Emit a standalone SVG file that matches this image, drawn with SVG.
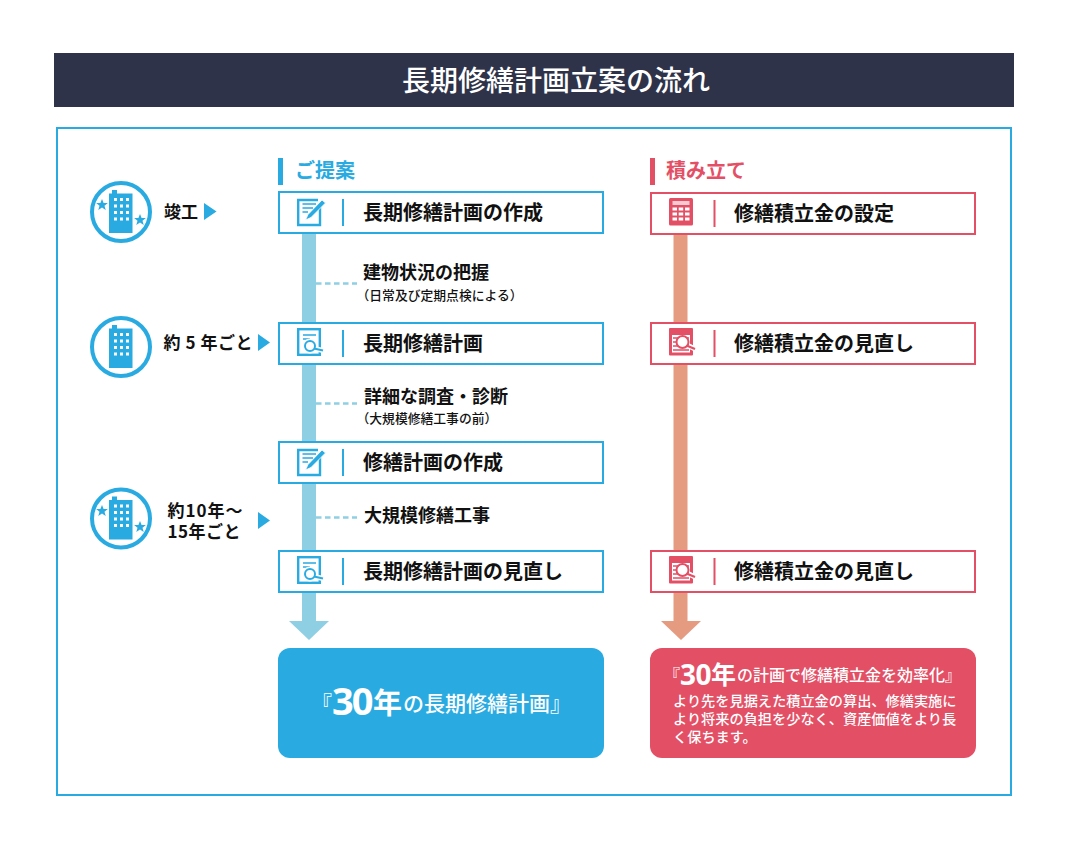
<svg xmlns="http://www.w3.org/2000/svg" width="1069" height="849" viewBox="0 0 1069 849">
<style>
text{font-family:"Noto Sans CJK JP","Noto Sans",sans-serif;font-weight:700;fill:#111}
.lb{font-size:20px}
.nt{font-size:18px}
.tm{font-size:17px}
.sm{font-size:12.8px;font-weight:500}
.w{fill:#fff}
.w5{fill:#fff;font-weight:500}
.num{fill:#fff;font-family:"Open Sans","Noto Sans CJK JP",sans-serif}
.bbox{fill:#fff;stroke:#29abe2;stroke-width:2}
.rbox{fill:#fff;stroke:#e34f65;stroke-width:2}
.bd{stroke:#29abe2;stroke-width:2;fill:none}
.rd{stroke:#e34f65;stroke-width:2;fill:none}
.dash{stroke:#8ecfe4;stroke-width:2.4;stroke-dasharray:5.500 3.500;fill:none}
.ring{fill:#fff;stroke:#29abe2;stroke-width:4}
.tri{fill:#29abe2}
</style>
<defs>
<g id="building">
<rect x="-12" y="-18.500" width="23.500" height="39.500" fill="#29abe2"/>
<rect x="-9" y="-22" width="5" height="4" fill="#29abe2"/>
<g fill="#fff">
<rect x="-7" y="-14" width="3" height="3"/><rect x="-1" y="-14" width="3" height="3"/><rect x="5" y="-14" width="3" height="3"/>
<rect x="-7" y="-7.500" width="3" height="3"/><rect x="-1" y="-7.500" width="3" height="3"/><rect x="5" y="-7.500" width="3" height="3"/>
<rect x="-7" y="-1" width="3" height="3"/><rect x="-1" y="-1" width="3" height="3"/><rect x="5" y="-1" width="3" height="3"/>
<rect x="-7" y="5.500" width="3" height="3"/><rect x="-1" y="5.500" width="3" height="3"/><rect x="5" y="5.500" width="3" height="3"/>
</g>
</g>
<polygon id="star" points="0,-6 1.600,-2 5.900,-1.900 2.500,0.800 3.700,4.900 0,2.500 -3.700,4.900 -2.500,0.800 -5.900,-1.900 -1.600,-2" fill="#29abe2"/>
<g id="ic-edit" fill="none" stroke="#29abe2">
<path d="M21,2H1.200V27H23V9" stroke-width="2.400"/>
<path d="M5.500,6H19M5.500,10H16M5.500,14H11" stroke-width="1.400"/>
<path d="M8.500,22L11,16.500L25,2L28.500,5L14,19.500Z" fill="#29abe2" stroke="#fff" stroke-width="0.800"/>
</g>
<g id="ic-search" fill="none" stroke="#29abe2">
<rect x="1.200" y="1.200" width="21.600" height="25.600" stroke-width="2.400"/>
<path d="M6,7H19M6,11H13" stroke-width="1.500"/>
<path d="M17,20.500L26,22.500" stroke="#fff" stroke-width="5"/>
<circle cx="13" cy="18" r="5" fill="#fff" stroke="#fff" stroke-width="5"/>
<circle cx="13" cy="18" r="5" stroke-width="2"/>
<path d="M17,20.500L26,22.500" stroke-width="2.200"/>
</g>
<g id="ic-calc">
<rect x="0" y="0" width="24" height="27.500" rx="1.500" fill="#e34f65"/>
<rect x="3.500" y="3" width="17" height="4" fill="#fff" opacity="0.700"/>
<g fill="#fff">
<rect x="3.500" y="9.500" width="4.500" height="3"/><rect x="9.700" y="9.500" width="4.500" height="3"/><rect x="16" y="9.500" width="4.500" height="3"/>
<rect x="3.500" y="14.500" width="4.500" height="3"/><rect x="9.700" y="14.500" width="4.500" height="3"/><rect x="16" y="14.500" width="4.500" height="3"/>
<rect x="3.500" y="19.500" width="4.500" height="3"/><rect x="9.700" y="19.500" width="4.500" height="3"/><rect x="16" y="19.500" width="4.500" height="3"/>
</g>
</g>
<g id="ic-rsearch">
<rect x="0" y="0" width="24" height="27.500" rx="1" fill="#e34f65"/>
<rect x="3" y="3" width="18" height="21.500" fill="#fff"/>
<rect x="3" y="3" width="18" height="4" fill="#e34f65"/>
<path d="M4,10H20M4,14H9M4,18H9M4,22H20" stroke="#e34f65" stroke-width="1.500"/>
<path d="M17,16.500L26,21" stroke="#fff" stroke-width="5"/>
<circle cx="13.500" cy="14" r="6" fill="#fff" stroke="#e34f65" stroke-width="2"/>
<path d="M17.500,17.500L26,21" stroke="#e34f65" stroke-width="2.200"/>
</g>
</defs>
<rect width="1069" height="849" fill="#fff"/>
<g id="title">
<rect x="54" y="53" width="960" height="54" fill="#2e3349"/>
<text x="556" y="91" font-size="28" text-anchor="middle" class="w5">長期修繕計画立案の流れ</text>
</g>
<rect id="frame" x="57" y="128" width="954" height="667" fill="none" stroke="#29abe2" stroke-width="2"/>
<g id="connectors">
<rect x="302" y="233" width="14" height="389" fill="#8ecfe4"/>
<polygon points="289,621 329,621 309,640" fill="#8ecfe4"/>
<rect x="673.500" y="234" width="14" height="388" fill="#e59b80"/>
<polygon points="661,621 701,621 681,640" fill="#e59b80"/>
<path class="dash" d="M316,283.500H357"/>
<path class="dash" d="M316,403.500H357"/>
<path class="dash" d="M316,517.500H357"/>
</g>
<g id="head-blue">
<rect x="278" y="158" width="5" height="27" fill="#29abe2"/>
<text x="295" y="178" font-size="20" style="fill:#29abe2">ご提案</text>
</g>
<g id="head-red">
<rect x="650" y="158" width="5" height="27" fill="#e34f65"/>
<text x="666" y="178" font-size="20" style="fill:#e34f65">積み立て</text>
</g>
<g id="time1">
<circle class="ring" cx="121" cy="212" r="29"/>
<use href="#building" x="121" y="212"/>
<use href="#star" x="102" y="205"/><use href="#star" x="140" y="220"/>
<text x="164" y="218" class="tm">竣工</text>
<polygon class="tri" points="204,203 204,220 216.500,211.500"/>
</g>
<g id="time2">
<circle class="ring" cx="121" cy="347" r="29"/>
<use href="#building" x="121" y="347"/>
<text x="163.500" y="349" class="tm" textLength="89" lengthAdjust="spacing">約 5 年ごと</text>
<polygon class="tri" points="258,334 258,351 270,342.500"/>
</g>
<g id="time3">
<circle class="ring" cx="121" cy="518.500" r="29"/>
<use href="#building" x="121" y="518.500"/>
<use href="#star" x="102" y="511"/><use href="#star" x="140" y="527"/>
<text class="tm"><tspan x="167.500" y="517" letter-spacing="1">約10年～</tspan><tspan x="167.500" y="538" letter-spacing="0.500">15年ごと</tspan></text>
<polygon class="tri" points="258,512 258,529 270,520.500"/>
</g>
<g id="b1">
<rect class="bbox" x="279" y="192" width="324" height="41"/>
<use href="#ic-edit" x="297" y="198"/>
<path class="bd" d="M343,199V226"/>
<text class="lb" x="363" y="220">長期修繕計画の作成</text>
</g>
<g id="b2">
<rect class="bbox" x="279" y="323" width="324" height="41"/>
<use href="#ic-search" x="297" y="328"/>
<path class="bd" d="M343,330V357"/>
<text class="lb" x="363" y="351">長期修繕計画</text>
</g>
<g id="b3">
<rect class="bbox" x="279" y="442" width="324" height="41"/>
<use href="#ic-edit" x="297" y="448"/>
<path class="bd" d="M343,449V476"/>
<text class="lb" x="363" y="470">修繕計画の作成</text>
</g>
<g id="b4">
<rect class="bbox" x="279" y="551" width="324" height="41"/>
<use href="#ic-search" x="297" y="556"/>
<path class="bd" d="M343,558V585"/>
<text class="lb" x="363" y="579">長期修繕計画の見直し</text>
</g>
<g id="r1">
<rect class="rbox" x="651" y="193" width="324" height="41"/>
<use href="#ic-calc" x="669" y="198"/>
<path class="rd" d="M714.500,200V227"/>
<text class="lb" x="734" y="221">修繕積立金の設定</text>
</g>
<g id="r2">
<rect class="rbox" x="651" y="323" width="324" height="41"/>
<use href="#ic-rsearch" x="669" y="328"/>
<path class="rd" d="M714.500,330V357"/>
<text class="lb" x="734" y="351">修繕積立金の見直し</text>
</g>
<g id="r3">
<rect class="rbox" x="651" y="551" width="324" height="41"/>
<use href="#ic-rsearch" x="669" y="556"/>
<path class="rd" d="M714.500,558V585"/>
<text class="lb" x="734" y="579">修繕積立金の見直し</text>
</g>
<g id="notes">
<text x="363" y="279" class="nt">建物状況の把握</text>
<text x="356.500" y="300" class="sm">（日常及び定期点検による）</text>
<text x="364" y="403" class="nt">詳細な調査・診断</text>
<text x="356.500" y="423" class="sm">（大規模修繕工事の前）</text>
<text x="364" y="522" class="nt">大規模修繕工事</text>
</g>
<g id="result-blue">
<rect x="278" y="648" width="326" height="110" rx="12" fill="#29abe2"/>
<text class="w5" x="312" y="711" font-size="20">『</text>
<text class="num" x="332" y="715" font-size="38" letter-spacing="-2">30</text>
<text class="w" x="373" y="714" font-size="29">年</text>
<text class="w5" x="403" y="711" font-size="21">の長期修繕計画』</text>
</g>
<g id="result-red">
<rect x="650" y="648" width="326" height="110" rx="12" fill="#e34f65"/>
<text class="w5" x="664" y="681" font-size="16">『</text>
<text class="num" x="680" y="685" font-size="28" letter-spacing="-0.500">30</text>
<text class="w" x="711" y="684" font-size="25">年</text>
<text class="w5" x="737" y="681" font-size="16">の計画で修繕積立金を効率化』</text>
<text class="w5" x="673" y="706" font-size="14.200">より先を見据えた積立金の算出、修繕実施に</text>
<text class="w5" x="673" y="724" font-size="14.200">より将来の負担を少なく、資産価値をより長</text>
<text class="w5" x="673" y="742" font-size="14.200">く保ちます。</text>
</g>
</svg>
